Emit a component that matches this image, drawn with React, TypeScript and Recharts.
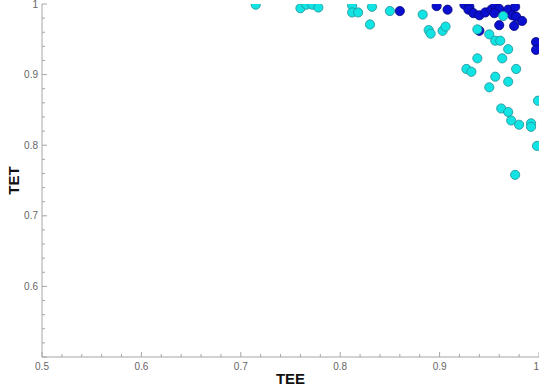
import { Scatter, ScatterChart, XAxis, YAxis } from "recharts";

// TEE / TET pairs
const cyanPoints = [
  { tee: 0.715, tet: 0.999 },
  { tee: 0.76, tet: 0.994 },
  { tee: 0.766, tet: 0.999 },
  { tee: 0.772, tet: 0.999 },
  { tee: 0.778, tet: 0.995 },
  { tee: 0.812, tet: 0.998 },
  { tee: 0.812, tet: 0.988 },
  { tee: 0.818, tet: 0.988 },
  { tee: 0.832, tet: 0.996 },
  { tee: 0.83, tet: 0.971 },
  { tee: 0.85, tet: 0.99 },
  { tee: 0.883, tet: 0.985 },
  { tee: 0.889, tet: 0.963 },
  { tee: 0.891, tet: 0.958 },
  { tee: 0.903, tet: 0.962 },
  { tee: 0.906, tet: 0.968 },
  { tee: 0.938, tet: 0.964 },
  { tee: 0.964, tet: 0.983 },
  { tee: 0.95, tet: 0.957 },
  { tee: 0.956, tet: 0.948 },
  { tee: 0.961, tet: 0.948 },
  { tee: 0.969, tet: 0.936 },
  { tee: 0.963, tet: 0.923 },
  { tee: 0.938, tet: 0.923 },
  { tee: 0.927, tet: 0.908 },
  { tee: 0.932, tet: 0.904 },
  { tee: 0.977, tet: 0.908 },
  { tee: 0.956, tet: 0.897 },
  { tee: 0.969, tet: 0.89 },
  { tee: 0.95, tet: 0.882 },
  { tee: 0.999, tet: 0.863 },
  { tee: 0.962, tet: 0.852 },
  { tee: 0.969, tet: 0.847 },
  { tee: 0.972, tet: 0.835 },
  { tee: 0.98, tet: 0.829 },
  { tee: 0.992, tet: 0.831 },
  { tee: 0.992, tet: 0.826 },
  { tee: 0.998, tet: 0.799 },
  { tee: 0.976, tet: 0.758 },
];

const bluePoints = [
  { tee: 0.86, tet: 0.99 },
  { tee: 0.897, tet: 0.997 },
  { tee: 0.908, tet: 0.992 },
  { tee: 0.925, tet: 0.999 },
  { tee: 0.93, tet: 0.996 },
  { tee: 0.929, tet: 0.992 },
  { tee: 0.934, tet: 0.987 },
  { tee: 0.94, tet: 0.984 },
  { tee: 0.946, tet: 0.988 },
  { tee: 0.952, tet: 0.992 },
  { tee: 0.956, tet: 0.997 },
  { tee: 0.96, tet: 0.993 },
  { tee: 0.955, tet: 0.987 },
  { tee: 0.969, tet: 0.992 },
  { tee: 0.976, tet: 0.996 },
  { tee: 0.973, tet: 0.984 },
  { tee: 0.977, tet: 0.982 },
  { tee: 0.983, tet: 0.976 },
  { tee: 0.96, tet: 0.97 },
  { tee: 0.975, tet: 0.969 },
  { tee: 0.94, tet: 0.962 },
  { tee: 0.997, tet: 0.946 },
  { tee: 0.997, tet: 0.935 },
];

const teeTicks = [
  0.5, 0.52, 0.54, 0.56, 0.58, 0.6, 0.62, 0.64, 0.66, 0.68, 0.7, 0.72, 0.74,
  0.76, 0.78, 0.8, 0.82, 0.84, 0.86, 0.88, 0.9, 0.92, 0.94, 0.96, 0.98, 1,
];
const teeLabels = ["0.5", "0.6", "0.7", "0.8", "0.9", "1"];

const tetTicks = teeTicks;
const tetLabels = ["0.6", "0.7", "0.8", "0.9", "1"];

const AXIS = "#a6a6a6";
const TICK_TEXT = "#666";

const isMajor = (v: number) => Math.abs(v * 10 - Math.round(v * 10)) < 1e-6;

function BottomTick({ x, y, payload }: any) {
  const v = payload.value;
  const major = isMajor(v);
  const label = String(v);
  // last label sits on the clipped right edge, keep it inside
  const anchor = v === 1 ? "end" : "middle";
  return (
    <g>
      <line x1={x} x2={x} y1={y} y2={y - (major ? 5 : 3)} stroke={AXIS} />
      {teeLabels.includes(label) && (
        <text x={x} y={y + 13} textAnchor={anchor} fontSize={10} fill={TICK_TEXT}>
          {label}
        </text>
      )}
    </g>
  );
}

function TopTick({ x, y, payload }: any) {
  const major = isMajor(payload.value);
  return <line x1={x} x2={x} y1={y} y2={y + (major ? 5 : 3)} stroke={AXIS} />;
}

function LeftTick({ x, y, payload }: any) {
  const v = payload.value;
  const major = isMajor(v);
  const label = String(v);
  return (
    <g>
      <line x1={x} x2={x + (major ? 5 : 3)} y1={y} y2={y} stroke={AXIS} />
      {tetLabels.includes(label) && (
        <text x={x - 4} y={y + 3.5} textAnchor="end" fontSize={10} fill={TICK_TEXT}>
          {label}
        </text>
      )}
    </g>
  );
}

function RightTick({ x, y, payload }: any) {
  const major = isMajor(payload.value);
  return <line x1={x} x2={x - (major ? 5 : 3)} y1={y} y2={y} stroke={AXIS} />;
}

const dot = (fill: string, stroke: string) => (props: any) =>
  <circle cx={props.cx} cy={props.cy} r={4.6} fill={fill} stroke={stroke} strokeWidth={0.8} />;

export default function App() {
  return (
    <div
      style={{
        position: "fixed",
        left: 0,
        top: 0,
        width: 539,
        height: 389,
        background: "#fff",
        fontFamily: "'Liberation Sans', Arial, sans-serif",
      }}
    >
      <ScatterChart width={539} height={389} margin={{ top: 4, right: 0, bottom: 0, left: 0 }}>
        <XAxis
          xAxisId="bottom"
          type="number"
          dataKey="tee"
          domain={[0.5, 1]}
          ticks={teeTicks}
          interval={0}
          allowDataOverflow
          height={32}
          tickSize={0}
          tickMargin={0}
          tickLine={false}
          stroke={AXIS}
          tick={<BottomTick />}
          label={{
            value: "TEE",
            position: "insideBottom",
            offset: 5,
            fill: "#111",
            fontSize: 15,
            fontWeight: "bold",
          }}
        />
        <XAxis
          xAxisId="top"
          orientation="top"
          type="number"
          dataKey="tee"
          domain={[0.5, 1]}
          ticks={teeTicks}
          interval={0}
          allowDataOverflow
          height={0}
          tickSize={0}
          tickMargin={0}
          tickLine={false}
          stroke={AXIS}
          tick={<TopTick />}
        />
        <YAxis
          yAxisId="left"
          type="number"
          dataKey="tet"
          domain={[0.5, 1]}
          ticks={tetTicks}
          interval={0}
          allowDataOverflow
          width={42}
          tickSize={0}
          tickMargin={0}
          tickLine={false}
          stroke={AXIS}
          tick={<LeftTick />}
          label={{
            value: "TET",
            angle: -90,
            position: "insideLeft",
            offset: 14,
            fill: "#111",
            fontSize: 15,
            fontWeight: "bold",
            style: { textAnchor: "middle" },
          }}
        />
        <YAxis
          yAxisId="right"
          orientation="right"
          type="number"
          dataKey="tet"
          domain={[0.5, 1]}
          ticks={tetTicks}
          interval={0}
          allowDataOverflow
          width={0}
          tickSize={0}
          tickMargin={0}
          tickLine={false}
          stroke={AXIS}
          tick={<RightTick />}
        />
        <Scatter
          xAxisId="bottom"
          yAxisId="left"
          data={bluePoints}
          shape={dot("#0a0fd0", "#06067a")}
          isAnimationActive={false}
        />
        <Scatter
          xAxisId="bottom"
          yAxisId="left"
          data={cyanPoints}
          shape={dot("#12e4e4", "#1f8f96")}
          isAnimationActive={false}
        />
      </ScatterChart>
    </div>
  );
}
